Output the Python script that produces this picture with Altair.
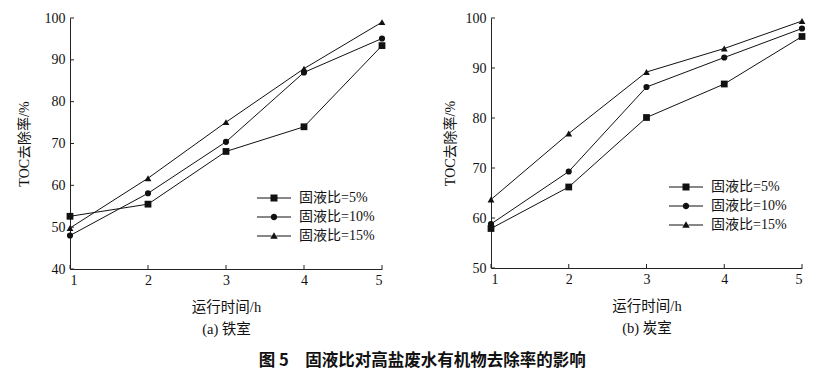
import altair as alt
import pandas as pd

hours = [1, 2, 3, 4, 5]
series = ["固液比=5%", "固液比=10%", "固液比=15%"]

iron_5 = [52.6, 55.5, 68.1, 74.0, 93.4]
iron_10 = [48.0, 58.1, 70.4, 87.0, 95.1]
iron_15 = [49.8, 61.7, 75.1, 87.9, 99.0]

carbon_5 = [57.9, 66.2, 80.1, 86.8, 96.3]
carbon_10 = [58.8, 69.3, 86.2, 92.1, 97.9]
carbon_15 = [63.7, 76.9, 89.2, 93.9, 99.4]

iron_yticks = [40, 50, 60, 70, 80, 90, 100]
carbon_yticks = [50, 60, 70, 80, 90, 100]

x_title = "运行时间/h"
y_title = "TOC去除率/%"
caption = "图 5　固液比对高盐废水有机物去除率的影响"

SERIF = "'Liberation Serif', 'Times New Roman', 'Noto Sans CJK SC', serif"
shapes = ["square", "circle", "triangle-up"]
sizes = [46, 38, 46]
# legend symbols: a thin line with a marker, in units of sqrt(symbolSize)/2
legend_paths = [
    "M-3.4,-0.1H-0.7V0.1H-3.4ZM0.7,-0.1H3.4V0.1H0.7ZM-0.7,-0.7H0.7V0.7H-0.7Z",
    "M-3.4,-0.1H-0.6V0.1H-3.4ZM0.6,-0.1H3.4V0.1H0.6ZM-0.65,0A0.65,0.65 0 1,1 0.65,0A0.65,0.65 0 1,1 -0.65,0Z",
    "M-3.4,-0.1H-0.5V0.1H-3.4ZM0.5,-0.1H3.4V0.1H0.5ZM0,-0.75L0.75,0.55L-0.75,0.55Z",
]


def panel(values, yticks, subtitle, lx, ly, width, height, tpad):
    rows = []
    for s, vals in zip(series, values):
        for h, v in zip(hours, vals):
            rows.append({"t": h, "v": v, "series": s})
    df = pd.DataFrame(rows)
    ymin, ymax = yticks[0], yticks[-1]
    xsc = alt.Scale(domain=[hours[0], hours[-1]], nice=False, zero=False)
    ysc = alt.Scale(domain=[ymin, ymax], nice=False, zero=False)
    xax = alt.Axis(values=hours, format="d", ticks=False, grid=False,
                   domainColor="#222", labelFont=SERIF, labelFontSize=14,
                   labelColor="#111", labelPadding=4,
                   title=[x_title, subtitle], titleFont=SERIF,
                   titleFontWeight="normal", titleFontSize=14.5,
                   titleColor="#111", titleLineHeight=22, titlePadding=13)
    yax = alt.Axis(values=yticks, ticks=False, grid=False, domainColor="#222",
                   labelFont=SERIF, labelFontSize=14, labelColor="#111",
                   labelPadding=5, title=y_title, titleFont=SERIF,
                   titleFontWeight="normal", titleFontSize=14,
                   titleColor="#111", titlePadding=tpad)
    base = alt.Chart(df)
    lines = base.mark_line(color="#111", strokeWidth=1).encode(
        x=alt.X("t:Q", scale=xsc, axis=xax),
        y=alt.Y("v:Q", scale=ysc, axis=yax),
        detail="series:N",
    )
    layers = [lines]
    for s, shp, sz in zip(series, shapes, sizes):
        layers.append(
            base.transform_filter(alt.datum.series == s)
            .mark_point(shape=shp, filled=True, color="#111", size=sz, opacity=1)
            .encode(x="t:Q", y="v:Q")
        )
    leg = base.mark_point(filled=True, color="#111", opacity=0).encode(
        x="t:Q", y="v:Q",
        shape=alt.Shape("series:N", scale=alt.Scale(domain=series, range=legend_paths),
                        legend=alt.Legend(orient="none", legendX=lx, legendY=ly,
                                          title=None, symbolSize=100,
                                          symbolOpacity=1, symbolFillColor="#111",
                                          symbolStrokeWidth=0,
                                          labelFont=SERIF, labelFontSize=14,
                                          labelColor="#111", labelOffset=18,
                                          rowPadding=5, padding=0)),
    )
    layers.append(leg)
    # inward tick marks
    xlen = (hours[-1] - hours[0]) * 4.0 / width
    ylen = (ymax - ymin) * 4.0 / height
    ytick_df = pd.DataFrame({"v": yticks, "t": hours[0], "t2": hours[0] + xlen})
    xtick_df = pd.DataFrame({"t": hours, "v": ymin, "v2": ymin + ylen})
    layers.append(alt.Chart(ytick_df).mark_rule(color="#222", strokeWidth=1).encode(
        x="t:Q", x2="t2:Q", y="v:Q"))
    layers.append(alt.Chart(xtick_df).mark_rule(color="#222", strokeWidth=1).encode(
        x="t:Q", y="v:Q", y2="v2:Q"))
    return alt.layer(*layers).properties(width=width, height=height)


left = panel([iron_5, iron_10, iron_15], iron_yticks, "(a) 铁室", 197, 173, 312, 251, 13)
right = panel([carbon_5, carbon_10, carbon_15], carbon_yticks, "(b) 炭室", 188, 162, 311, 250, 8)

chart = (
    alt.hconcat(left, right, spacing=51)
    .resolve_scale(shape="independent")
    .resolve_legend(shape="independent")
    .properties(
        title=alt.TitleParams(caption, orient="bottom", anchor="middle", fontSize=16.5,
                              font="Noto Sans CJK SC", fontWeight="bold",
                              color="#111", offset=17, dx=8),
        padding={"left": 9, "top": 3, "right": 2, "bottom": 2},
    )
    .configure_view(stroke=None)
)

chart.save("out.html", embed_options={"renderer": "svg", "actions": False})
